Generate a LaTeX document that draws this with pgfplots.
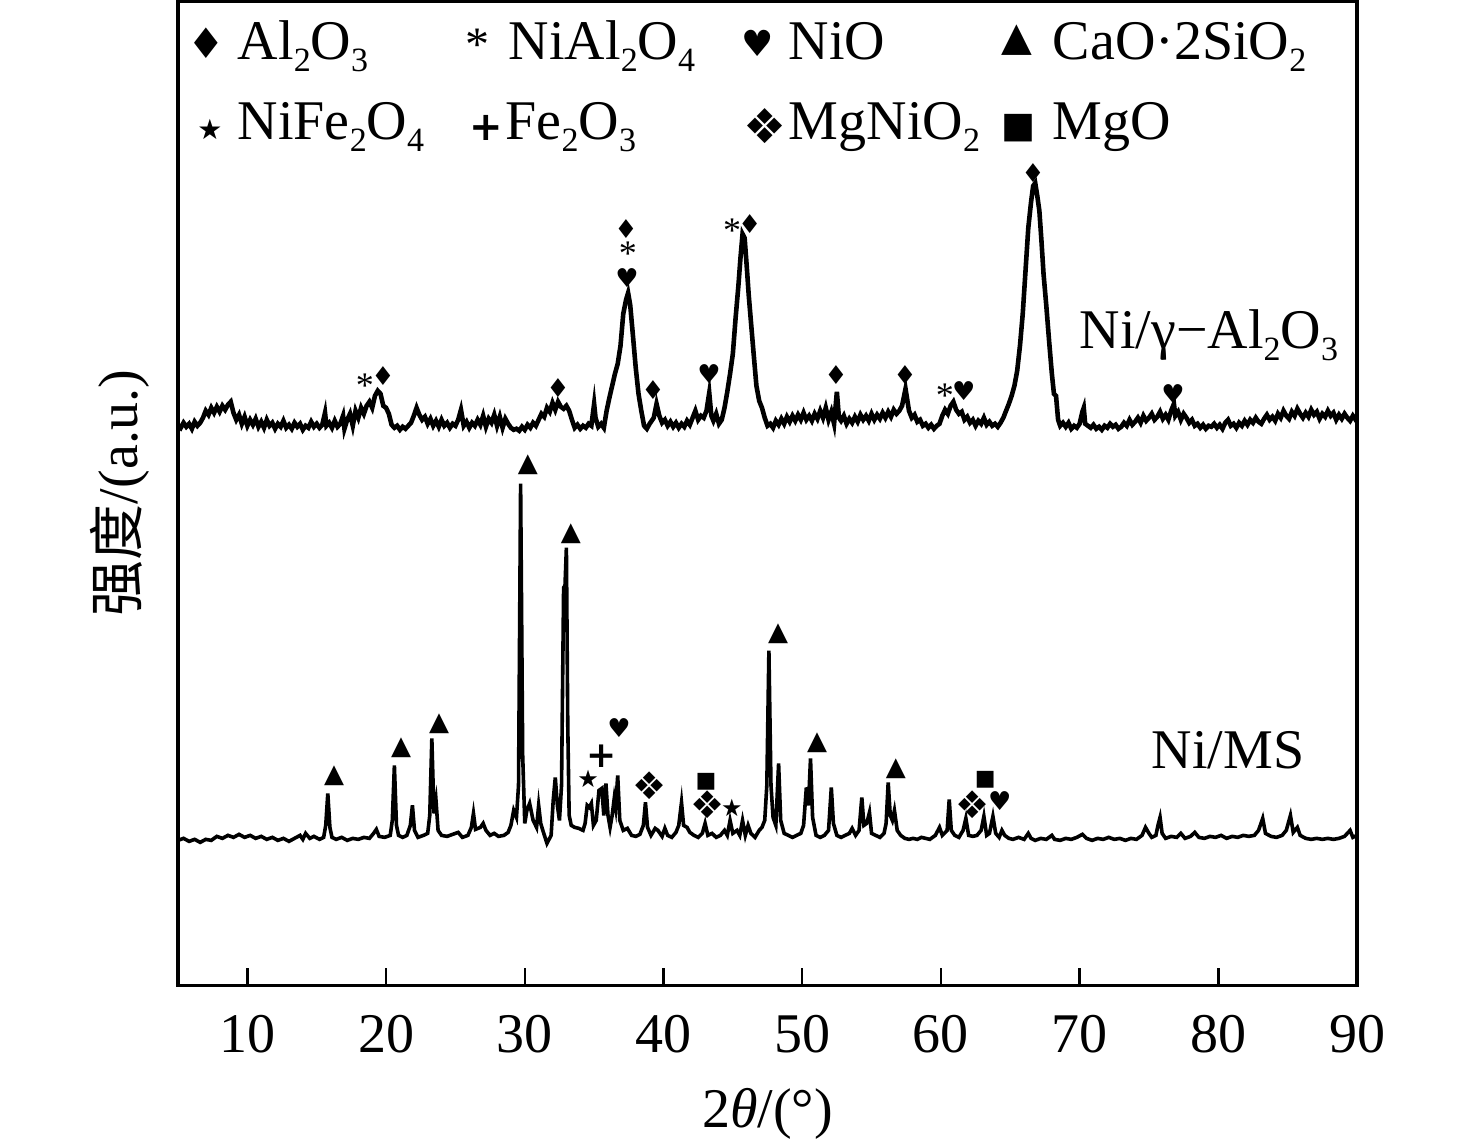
\documentclass[border=0pt]{standalone}
\usepackage{fontspec}
\setmainfont{Liberation Serif}
\newfontfamily\cjk{Noto Sans CJK SC}
\newfontfamily\dejavu{DejaVu Sans}
\usepackage{pgfplots}
\pgfplotsset{compat=1.18}
\usetikzlibrary{calc}
\pgfplotsset{
  pk/.style 2 args={draw=none, mark=none, nodes near coords={#1},
    every node near coord/.append style={anchor=center, inner sep=0pt, font=#2}},
}
\newcommand{\fs}[1]{\fontsize{#1}{#1}\selectfont}
\newcommand{\sub}[1]{\raisebox{-3pt}{\fs{8.5}#1}}
\begin{document}
\begin{tikzpicture}
\begin{axis}[
  width=294.75pt, height=246pt, scale only axis,
  xmin=5, xmax=90, ymin=0, ymax=985,
  axis line style={line width=0.8pt},
  xtick={10,20,...,90}, ytick=\empty,
  xtick pos=left, tick align=inside,
  major tick length=4.3pt,
  tick style={line width=0.6pt, black},
  /pgf/number format/assume math mode=true,
  xticklabel style={anchor=base, yshift=-16.75pt, font=\fs{14}},
  xlabel={2{\itshape θ}/(°)},
  xlabel style={at={(axis description cs:0.5,0)}, anchor=base, yshift=-35.5pt, font=\fs{14}},
  clip=false,
]
\coordinate (bl) at (rel axis cs:0,0);
\coordinate (tr) at (rel axis cs:1,1);
% Ni/gamma-Al2O3
\addplot[black, line width=1.15pt] coordinates {
(5.0,561)(5.2,558)(5.4,563)(5.6,559)(5.8,562)(6.0,557)(6.2,564)(6.4,560)(6.6,563)(6.8,568)
(7.0,575)(7.2,571)(7.4,578)(7.6,573)(7.8,579)(8.0,574)(8.2,580)(8.4,576)(8.6,581)(8.8,584)
(9.0,573)(9.2,566)(9.4,571)(9.6,562)(9.8,569)(10.0,560)(10.2,566)(10.4,561)(10.6,567)(10.8,559)
(11.0,564)(11.2,558)(11.4,566)(11.6,560)(11.8,563)(12.0,557)(12.2,562)(12.4,559)(12.6,565)(12.8,558)
(13.0,561)(13.2,557)(13.4,563)(13.6,559)(13.8,562)(14.0,556)(14.2,560)(14.4,558)(14.6,564)(14.8,559)
(15.0,562)(15.2,558)(15.4,561)(15.6,573)(15.7,560)(15.9,563)(16.1,558)(16.3,565)(16.5,559)(16.7,562)
(16.9,570)(17.0,557)(17.2,566)(17.4,572)(17.6,560)(17.8,575)(18.0,568)(18.2,578)(18.4,572)(18.6,580)
(18.8,584)(19.0,578)(19.2,590)(19.4,595)(19.6,592)(19.8,580)(20.0,578)(20.2,572)(20.4,561)(20.6,558)
(20.8,560)(21.0,556)(21.2,559)(21.4,557)(21.6,560)(21.8,563)(22.0,570)(22.2,578)(22.4,571)(22.6,566)
(22.8,569)(23.0,562)(23.2,567)(23.4,560)(23.6,565)(23.8,559)(24.0,566)(24.2,560)(24.4,563)(24.6,558)
(24.8,562)(25.0,560)(25.2,566)(25.4,576)(25.6,560)(25.8,564)(26.0,558)(26.2,563)(26.4,560)(26.6,566)
(26.8,561)(27.0,570)(27.2,559)(27.4,567)(27.6,563)(27.8,571)(28.0,560)(28.2,569)(28.4,558)(28.6,567)
(28.8,562)(29.0,558)(29.2,556)(29.4,557)(29.6,555)(29.8,559)(30.0,556)(30.2,561)(30.4,558)(30.6,563)
(30.8,560)(31.0,566)(31.2,572)(31.4,569)(31.6,578)(31.8,574)(32.0,583)(32.2,576)(32.4,584)(32.6,579)
(32.8,577)(33.0,580)(33.2,575)(33.4,566)(33.6,558)(33.8,561)(34.0,557)(34.2,560)(34.4,558)(34.6,562)
(34.8,560)(35.0,582)(35.1,568)(35.3,559)(35.5,562)(35.7,558)(35.9,575)(36.1,588)(36.3,600)(36.5,612)
(36.7,622)(36.9,640)(37.1,672)(37.3,686)(37.45,693)(37.6,681)(37.8,650)(38.0,618)(38.2,592)(38.4,575)
(38.6,560)(38.8,557)(39.0,562)(39.3,568)(39.5,582)(39.7,570)(39.9,563)(40.1,566)(40.3,560)(40.5,564)
(40.7,559)(40.9,563)(41.1,558)(41.3,562)(41.5,559)(41.7,565)(41.9,561)(42.1,568)(42.3,575)(42.5,566)
(42.7,570)(42.9,568)(43.1,575)(43.3,593)(43.45,570)(43.6,565)(43.8,572)(44.0,562)(44.2,566)(44.4,578)
(44.6,594)(44.8,612)(45.0,632)(45.2,668)(45.4,700)(45.55,728)(45.7,752)(45.85,748)(46.0,720)(46.15,690)
(46.3,665)(46.5,632)(46.7,600)(46.9,585)(47.1,578)(47.3,568)(47.5,560)(47.7,562)(47.9,558)(48.1,565)
(48.3,561)(48.5,567)(48.7,562)(48.9,569)(49.1,564)(49.3,570)(49.5,565)(49.7,571)(49.9,566)(50.1,573)
(50.3,566)(50.5,570)(50.7,565)(50.9,572)(51.1,567)(51.3,575)(51.5,568)(51.7,578)(51.9,566)(52.1,574)
(52.3,562)(52.5,594)(52.65,568)(52.8,565)(53.0,570)(53.2,562)(53.4,567)(53.6,563)(53.8,569)(54.0,564)
(54.2,571)(54.4,566)(54.6,570)(54.8,565)(55.0,572)(55.2,566)(55.4,571)(55.6,567)(55.8,573)(56.0,568)
(56.2,574)(56.4,569)(56.6,576)(56.8,572)(57.0,575)(57.2,580)(57.45,597)(57.7,575)(57.9,568)(58.1,571)
(58.3,564)(58.5,566)(58.7,560)(58.9,562)(59.1,558)(59.3,561)(59.5,557)(59.7,560)(59.9,562)(60.1,570)
(60.3,576)(60.5,572)(60.7,580)(60.9,584)(61.1,576)(61.3,572)(61.5,574)(61.7,566)(61.9,569)(62.1,563)
(62.3,566)(62.5,560)(62.7,565)(62.9,562)(63.1,568)(63.3,561)(63.5,564)(63.7,560)(63.9,562)(64.1,559)
(64.3,563)(64.5,568)(64.7,575)(64.9,582)(65.1,590)(65.3,600)(65.5,615)(65.7,640)(65.9,672)(66.1,715)
(66.3,758)(66.5,784)(66.65,800)(66.8,803)(66.95,790)(67.1,775)(67.25,745)(67.4,712)(67.6,680)(67.8,645)
(68.0,612)(68.15,592)(68.3,590)(68.45,566)(68.6,560)(68.8,563)
(69.0,559)(69.2,563)(69.4,557)(69.6,560)(69.8,558)(70.0,562)(70.2,574)(70.3,578)(70.4,562)(70.6,560)
(70.8,558)(71.0,561)(71.2,557)(71.4,559)(71.6,556)(71.8,560)(72.0,558)(72.2,562)(72.4,559)(72.6,561)
(72.8,557)(73.0,559)(73.2,563)(73.4,560)(73.6,566)(73.8,561)(74.0,564)(74.2,568)(74.4,563)(74.6,570)
(74.8,565)(75.0,568)(75.2,572)(75.4,566)(75.6,569)(75.8,574)(76.0,567)(76.2,571)(76.4,566)(76.6,575)
(76.8,582)(76.9,570)(77.1,574)(77.3,566)(77.5,572)(77.7,568)(77.9,563)(78.1,566)(78.3,560)(78.5,562)
(78.7,558)(78.9,561)(79.1,557)(79.3,560)(79.5,559)(79.7,562)(79.9,558)(80.1,561)(80.3,557)(80.5,563)
(80.7,566)(80.9,560)(81.1,562)(81.3,558)(81.5,563)(81.7,560)(81.9,565)(82.1,561)(82.3,566)(82.5,563)
(82.7,568)(82.9,564)(83.1,562)(83.3,567)(83.5,571)(83.7,566)(83.9,569)(84.1,565)(84.3,572)(84.5,568)
(84.7,575)(84.9,570)(85.1,567)(85.3,574)(85.5,570)(85.7,577)(85.9,572)(86.1,568)(86.3,573)(86.5,569)
(86.7,576)(86.9,571)(87.1,574)(87.3,567)(87.5,572)(87.7,569)(87.9,575)(88.1,570)(88.3,573)(88.5,566)
(88.7,571)(88.9,567)(89.1,572)(89.3,568)(89.5,565)(89.7,570)(89.9,566)(90.0,568)
};
% Ni/MS
\addplot[black, line width=0.9pt] coordinates {
(5.0,145)(5.4,147)(5.8,144)(6.2,146)(6.6,143)(7.0,146)(7.4,145)(7.8,149)(8.2,147)(8.6,150)
(9.0,148)(9.4,151)(9.8,148)(10.2,150)(10.6,147)(11.0,149)(11.4,146)(11.8,148)(12.2,145)(12.6,147)
(13.0,144)(13.4,147)(13.8,150)(14.0,146)(14.2,152)(14.5,147)(14.8,149)(15.2,146)(15.5,148)(15.65,160)
(15.8,192)(15.95,158)(16.1,148)(16.4,146)(16.8,148)(17.2,145)(17.6,147)(18.0,146)(18.4,148)(18.8,147)
(19.1,152)(19.3,156)(19.5,149)(19.9,148)(20.3,150)(20.45,165)(20.6,220)(20.75,160)(20.9,150)(21.2,148)
(21.5,150)(21.75,160)(21.9,180)(22.05,155)(22.3,148)(22.7,150)(23.0,152)(23.15,170)(23.3,247)(23.45,172)
(23.6,185)(23.75,155)(24.0,150)(24.4,149)(24.8,151)(25.2,153)(25.5,148)(25.9,150)(26.15,158)(26.3,172)
(26.45,156)(26.8,158)(27.0,162)(27.2,155)(27.5,150)(27.8,152)(28.1,149)(28.5,150)(28.8,153)(29.0,160)
(29.2,175)(29.4,168)(29.55,200)(29.7,502)(29.85,230)(30.0,162)(30.15,175)(30.35,182)(30.6,165)(30.85,158)
(31.0,180)(31.15,162)(31.3,155)(31.6,142)(31.9,150)(32.05,185)(32.2,208)(32.35,180)(32.5,165)(32.65,200)
(32.8,398)(32.9,400)(33.0,438)(33.1,260)(33.2,170)(33.35,160)(33.6,158)(33.9,157)(34.2,155)(34.35,162)
(34.5,180)(34.65,178)(34.8,182)(34.95,160)(35.15,165)(35.35,195)(35.55,197)(35.7,170)(35.85,202)(36.0,170)
(36.15,158)(36.3,170)(36.45,187)(36.55,178)(36.7,210)(36.85,165)(37.1,155)(37.4,157)(37.7,150)(38.0,149)
(38.3,151)(38.55,160)(38.7,183)(38.85,158)(39.1,150)(39.4,157)(39.6,155)(39.9,149)(40.1,157)(40.3,150)
(40.6,148)(40.9,153)(41.1,160)(41.3,183)(41.45,160)(41.7,158)(41.9,153)(42.2,150)(42.5,148)(42.8,152)
(43.0,162)(43.2,150)(43.5,152)(43.8,148)(44.1,150)(44.4,155)(44.6,150)(44.8,165)(45.0,152)(45.3,155)
(45.5,150)(45.7,165)(45.9,150)(46.1,160)(46.3,152)(46.6,148)(46.9,155)(47.1,158)(47.3,165)(47.45,200)
(47.6,335)(47.75,200)(47.9,168)(48.1,160)(48.3,222)(48.45,165)(48.7,152)(49.0,150)(49.3,148)(49.6,150)
(49.9,152)(50.1,160)(50.3,198)(50.45,180)(50.6,227)(50.75,168)(51.0,150)(51.3,148)(51.6,150)(51.9,155)
(52.1,198)(52.25,162)(52.5,150)(52.8,148)(53.1,150)(53.4,152)(53.6,157)(53.85,150)(54.1,155)(54.3,188)
(54.45,160)(54.65,162)(54.85,173)(55.0,152)(55.3,150)(55.6,148)(55.9,152)(56.05,162)(56.2,203)(56.35,170)
(56.5,165)(56.65,175)(56.85,155)(57.1,150)(57.4,147)(57.7,146)(58.0,147)(58.3,146)(58.6,148)(58.9,147)
(59.2,146)(59.6,150)(59.9,158)(60.1,150)(60.45,155)(60.6,186)(60.75,155)(61.0,150)(61.3,148)(61.6,155)
(61.8,167)(62.0,150)(62.3,149)(62.6,150)(62.9,155)(63.1,169)(63.3,150)(63.5,152)(63.75,169)(63.95,152)
(64.2,148)(64.4,155)(64.6,150)(64.9,147)(65.2,146)(65.6,148)(66.0,146)(66.3,152)(66.5,147)(66.8,145)
(67.2,147)(67.6,146)(68.0,150)(68.2,146)(68.6,145)(69.0,147)(69.4,146)(69.8,148)(70.2,151)(70.5,147)
(70.9,145)(71.3,147)(71.7,146)(72.1,148)(72.5,146)(72.9,147)(73.3,145)(73.7,147)(74.1,146)(74.5,150)
(74.75,158)(75.0,152)(75.2,148)(75.5,150)(75.65,160)(75.8,168)(75.95,152)(76.2,147)(76.6,149)(77.0,148)
(77.3,152)(77.6,147)(78.0,149)(78.3,153)(78.6,148)(79.0,147)(79.4,149)(79.8,148)(80.2,150)(80.6,147)
(81.0,149)(81.4,148)(81.8,150)(82.2,149)(82.6,150)(82.9,155)(83.2,167)(83.4,152)(83.8,149)(84.2,148)
(84.6,150)(84.9,155)(85.2,170)(85.4,153)(85.7,158)(85.9,150)(86.3,147)(86.7,146)(87.1,147)(87.5,146)
(87.9,147)(88.3,146)(88.7,147)(89.1,149)(89.5,155)(89.7,148)(90.0,150)
};
% peak markers, upper pattern
\addplot[pk={♦}{\dejavu\fs{6.5}}] coordinates {(19.78,610)(32.40,598)(37.30,757)(39.25,596)(46.22,762)(52.44,611)(57.41,611)(66.64,813)};
\addplot[pk={*}{\fs{9}}] coordinates {(18.48,600)(37.44,732)(44.95,755)(60.28,590)};
\addplot[pk={♥}{\dejavu\fs{6.5}}] coordinates {(37.37,708)(43.28,612)(61.65,595)(76.74,592)};
% peak markers, lower pattern
\addplot[pk={▲}{\dejavu\fs{6.5}}] coordinates {(16.25,210)(21.08,238)(23.82,262)(30.23,521)(33.33,452)(48.26,352)(51.07,243)(56.76,217)};
\addplot[pk={★}{\dejavu\fs{6}}] coordinates {(34.56,207)(44.94,178)};
\addplot[pk={+}{\dejavu\bfseries\fs{9}}] coordinates {(35.57,229)};
\addplot[pk={♥}{\dejavu\fs{6.5}}] coordinates {(36.79,257)(64.25,184)};
\addplot[pk={❖}{\dejavu\fs{9.5}}] coordinates {(39.03,200)(43.14,181)(62.30,181)};
\addplot[pk={■}{\dejavu\fs{5.5}}] coordinates {(43.07,204)(63.20,206)};
% legend
\node[anchor=center, font=\dejavu\fs{10.5}] at (axis cs:7.02,943) {♦};
\node[anchor=center, font=\fs{12}] at (axis cs:26.6,941) {*};
\node[anchor=center, font=\dejavu\fs{9}] at (axis cs:46.82,943) {♥};
\node[anchor=center, font=\dejavu\fs{10}] at (axis cs:65.49,946) {▲};
\node[anchor=center, font=\dejavu\fs{7}] at (axis cs:7.31,857) {★};
\node[anchor=center, font=\dejavu\bfseries\fs{10}] at (axis cs:27.2,858) {+};
\node[anchor=center, font=\dejavu\fs{12}] at (axis cs:47.32,860) {❖};
\node[anchor=center, font=\dejavu\fs{9}] at (axis cs:65.63,858) {■};
\node[anchor=base west, inner sep=0pt, font=\fs{14}] at (axis cs:9.25,927) {Al\sub{2}O\sub{3}};
\node[anchor=base west, inner sep=0pt, font=\fs{14}] at (axis cs:28.79,927) {NiAl\sub{2}O\sub{4}};
\node[anchor=base west, inner sep=0pt, font=\fs{14}] at (axis cs:48.98,927) {NiO};
\node[anchor=base west, inner sep=0pt, font=\fs{14}] at (axis cs:68.01,927) {CaO·2SiO\sub{2}};
\node[anchor=base west, inner sep=0pt, font=\fs{14}] at (axis cs:9.25,847) {NiFe\sub{2}O\sub{4}};
\node[anchor=base west, inner sep=0pt, font=\fs{14}] at (axis cs:28.57,847) {Fe\sub{2}O\sub{3}};
\node[anchor=base west, inner sep=0pt, font=\fs{14}] at (axis cs:48.98,847) {MgNiO\sub{2}};
\node[anchor=base west, inner sep=0pt, font=\fs{14}] at (axis cs:68.01,847) {MgO};
% sample names
\node[anchor=base east, inner sep=0pt, font=\fs{14}] at (axis cs:88.7,637) {Ni/γ−Al\sub{2}O\sub{3}};
\node[anchor=base east, inner sep=0pt, font=\fs{14}] at (axis cs:86.25,217) {Ni/MS};
\end{axis}
\node[xshift=-14.5pt, rotate=90, anchor=center, font=\fs{14}] at ($(bl)!0.5!(bl|-tr)$) {{\cjk 强度}/(a.u.)};
\pgfresetboundingbox
\path ($(bl)+(-44.5pt,-39.25pt)$) rectangle ($(tr)+(29.75pt,0.3pt)$);
\end{tikzpicture}
\end{document}
